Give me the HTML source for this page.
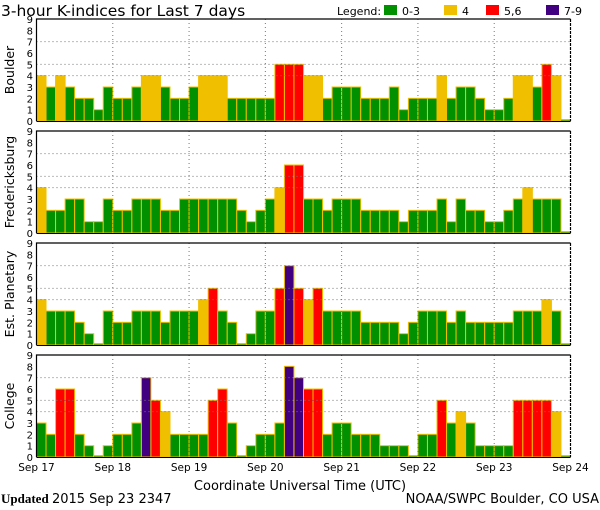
<!DOCTYPE html>
<html><head><meta charset="utf-8"><style>
html,body{margin:0;padding:0;background:#fff;}
svg{display:block;font-family:"DejaVu Sans","Liberation Sans",sans-serif;}
</style></head><body>
<svg id="chart" width="600" height="510" viewBox="0 0 600 510" xmlns="http://www.w3.org/2000/svg">
<text x="1" y="16" font-size="15.5" fill="#000">3-hour K-indices for Last 7 days</text>
<g font-size="11">
<text x="337" y="15">Legend:</text>
<rect x="384" y="5" width="13" height="10" fill="#009000"/>
<text x="402" y="15">0-3</text>
<rect x="444" y="5" width="13" height="10" fill="#f0c000"/>
<text x="462" y="15">4</text>
<rect x="486" y="5" width="13" height="10" fill="#ff0000"/>
<text x="504" y="15">5,6</text>
<rect x="546" y="5" width="13" height="10" fill="#400080"/>
<text x="564" y="15">7-9</text>
</g>
<g id="panels"></g>
<text x="300" y="490" font-size="13" text-anchor="middle">Coordinate Universal Time (UTC)</text>
<text x="1" y="503" font-size="13" font-family="Liberation Serif,serif"><tspan font-weight="bold">Updated</tspan> <tspan font-family="DejaVu Sans,sans-serif">2015 Sep 23 2347</tspan></text>
<text x="599" y="503" font-size="13" text-anchor="end">NOAA/SWPC Boulder, CO USA</text>
</svg>
<script>
const dayLabels = ["Sep 17","Sep 18","Sep 19","Sep 20","Sep 21","Sep 22","Sep 23","Sep 24"];
const stationNames = ["Boulder","Fredericksburg","Est. Planetary","College"];
const boulder = [4,3,4,3,2,2,1,3, 2,2,3,4,4,3,2,2, 3,4,4,4,2,2,2,2, 2,5,5,5,4,4,2,3, 3,3,2,2,2,3,1,2, 2,2,4,2,3,3,2,1, 1,2,4,4,3,5,4,0];
const fredericksburg = [4,2,2,3,3,1,1,3, 2,2,3,3,3,2,2,3, 3,3,3,3,3,2,1,2, 3,4,6,6,3,3,2,3, 3,3,2,2,2,2,1,2, 2,2,3,1,3,2,2,1, 1,2,3,4,3,3,3,0];
const planetary = [4,3,3,3,2,1,0,3, 2,2,3,3,3,2,3,3, 3,4,5,3,2,0,1,3, 3,5,7,5,4,5,3,3, 3,3,2,2,2,2,1,2, 3,3,3,2,3,2,2,2, 2,2,3,3,3,4,3,0];
const college = [3,2,6,6,2,1,0,1, 2,2,3,7,5,4,2,2, 2,2,5,6,3,0,1,2, 2,3,8,7,6,6,2,3, 3,2,2,2,1,1,1,0, 2,2,5,3,4,3,1,1, 1,1,5,5,5,5,4,0];
const yTicks = [0,1,2,3,4,5,6,7,8,9];
const gridLevels = [4,5,7];

const seriesList = [boulder, fredericksburg, planetary, college];
const NS = "http://www.w3.org/2000/svg";
const X0 = 36.5, X1 = 570.5, PH = 102;
const panelTops = [19, 131, 243, 355];
const nBars = 56;
const xScale = i => X0 + (X1 - X0) * i / nBars;
const xDay = d => X0 + (X1 - X0) * d / 7;
function colorFor(v){ return v<=3 ? "#009000" : v==4 ? "#f0c000" : v<=6 ? "#ff0000" : "#400080"; }
function mk(tag, attrs, parent){ const e=document.createElementNS(NS,tag); for(const k in attrs) e.setAttribute(k, attrs[k]); parent.appendChild(e); return e; }
const root = document.getElementById("panels");

seriesList.forEach((data, p) => {
  const top = panelTops[p], bottom = top + PH;
  const yScale = v => bottom - v * PH / 9;
  const g = mk("g", {}, root);
  
  
  // station label
  const lbl = mk("text", {x:0, y:0, "font-size":12.5, "text-anchor":"middle", transform:`translate(14,${top+PH/2}) rotate(-90)`}, g);
  lbl.textContent = stationNames[p];
  
  
  // y ticks
  yTicks.forEach(t => {
    const tt = mk("text", {x:33, y:yScale(t)+4, "font-size":10, "text-anchor":"end"}, g);
    tt.textContent = t;
    
    
  });
  // bars
  data.forEach((v, i) => {
    const x = xScale(i), w = xScale(i+1) - x;
    const h = Math.max(v * PH / 9, 1.5);
    const r = mk("rect", {x:x, y:bottom-h, width:w, height:h, fill:colorFor(v), stroke:"#f0c000", "stroke-width":1}, g);
    
    
  });
  // grid lines
  gridLevels.forEach(lv => {
    const l = mk("line", {x1:X0, x2:X1, y1:yScale(lv), y2:yScale(lv), stroke:"#777", "stroke-width":1, "stroke-dasharray":"1,3"}, g);
    
    
  });
  for (let d=1; d<7; d++) {
    const l = mk("line", {x1:xDay(d), x2:xDay(d), y1:top, y2:bottom, stroke:"#777", "stroke-width":1, "stroke-dasharray":"1,3"}, g);
    
    
  }
  // frame
  const f1 = mk("path", {d:`M${X0},${bottom} L${X0},${top} L${X1},${top}`, fill:"none", stroke:"#000", "stroke-width":1.2}, g);
  
  
  const f2 = mk("line", {x1:X1, x2:X1, y1:top, y2:bottom, stroke:"#000", "stroke-width":1.2, "stroke-dasharray":"3,1"}, g);
  
  
  const f3 = mk("line", {x1:X0, x2:X1, y1:bottom+0.5, y2:bottom+0.5, stroke:"#000", "stroke-width":1}, g);
  
  
});
// day labels
dayLabels.forEach((s, d) => {
  const t = mk("text", {x:xDay(d), y:471, "font-size":10.5, "text-anchor":"middle"}, root);
  t.textContent = s;
  
  
});
</script>
</body></html>
